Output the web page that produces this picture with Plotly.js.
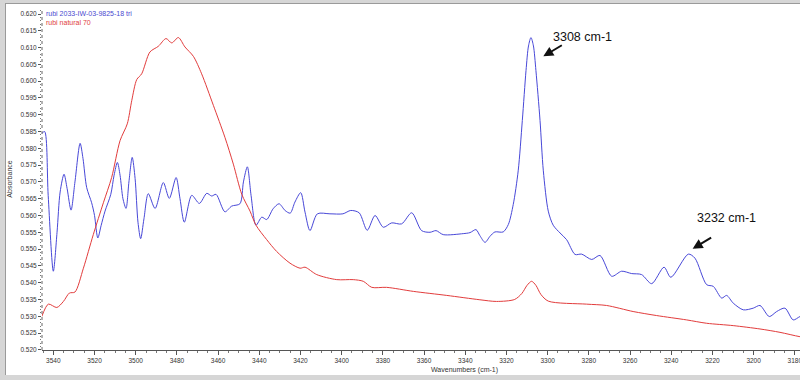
<!DOCTYPE html>
<html>
<head>
<meta charset="utf-8">
<script src="https://cdn.plot.ly/plotly-3.0.1.min.js"></script>
<style>
  html, body { margin: 0; padding: 0; background: #d6d6d6; width: 800px; height: 380px; overflow: hidden; position: relative; }
  #chart { position: absolute; left: 5px; top: 3px; width: 810px; height: 372px; background: #fff; box-shadow: inset 1px 1px 0 #9a9a9a; }
</style>
</head>
<body>
<div id="chart"></div>
<script>
// Wavenumbers (cm-1) and absorbance, series 1: rubi 2033-IW-03-9825-18 tri
const blueX = [3545.5, 3544.2, 3542.5, 3540.0, 3538.2, 3536.7, 3534.8, 3533.3, 3531.4, 3529.5, 3527.0, 3525.6, 3523.8, 3521.4, 3520.0, 3518.4, 3516.8, 3514.9, 3512.1, 3510.5, 3508.9, 3507.6, 3506.2, 3504.7, 3503.3, 3501.7, 3500.3, 3498.9, 3497.6, 3496.0, 3493.9, 3490.6, 3486.6, 3483.7, 3480.4, 3478.5, 3476.4, 3472.8, 3469.1, 3465.5, 3463.1, 3461.0, 3456.7, 3453.4, 3449.4, 3447.7, 3445.8, 3444.0, 3441.6, 3438.8, 3436.4, 3433.3, 3430.4, 3427.5, 3425.0, 3422.7, 3419.9, 3417.8, 3415.4, 3411.8, 3405.7, 3399.4, 3395.6, 3391.5, 3387.6, 3383.8, 3379.8, 3375.7, 3370.9, 3366.0, 3361.2, 3357.1, 3354.2, 3350.7, 3341.0, 3337.7, 3334.8, 3332.9, 3330.4, 3328.0, 3325.6, 3321.6, 3319.1, 3316.7, 3314.3, 3312.3, 3310.5, 3309.3, 3308.1, 3306.9, 3305.7, 3303.7, 3302.1, 3299.7, 3297.3, 3294.0, 3290.8, 3286.7, 3283.5, 3278.6, 3274.6, 3268.9, 3264.1, 3259.2, 3254.4, 3249.5, 3243.5, 3240.2, 3231.7, 3228.5, 3222.8, 3219.6, 3215.5, 3213.1, 3209.9, 3205.0, 3200.2, 3196.9, 3192.4, 3188.8, 3184.8, 3180.8, 3177.5, 3174.0, 3170.5];
const blueY = [0.5845, 0.5850, 0.5660, 0.5434, 0.5550, 0.5670, 0.5723, 0.5680, 0.5616, 0.5700, 0.5815, 0.5770, 0.5683, 0.5638, 0.5600, 0.5533, 0.5570, 0.5613, 0.5663, 0.5720, 0.5758, 0.5720, 0.5650, 0.5621, 0.5700, 0.5773, 0.5710, 0.5580, 0.5531, 0.5590, 0.5665, 0.5621, 0.5698, 0.5651, 0.5713, 0.5650, 0.5580, 0.5660, 0.5636, 0.5666, 0.5658, 0.5663, 0.5611, 0.5628, 0.5635, 0.5700, 0.5745, 0.5660, 0.5571, 0.5595, 0.5588, 0.5620, 0.5635, 0.5615, 0.5607, 0.5640, 0.5668, 0.5610, 0.5555, 0.5605, 0.5605, 0.5605, 0.5615, 0.5608, 0.5556, 0.5600, 0.5565, 0.5578, 0.5575, 0.5608, 0.5555, 0.5550, 0.5555, 0.5543, 0.5546, 0.5549, 0.5558, 0.5540, 0.5520, 0.5538, 0.5551, 0.5551, 0.5573, 0.5633, 0.5733, 0.5883, 0.6032, 0.6105, 0.6130, 0.6105, 0.6032, 0.5883, 0.5733, 0.5613, 0.5571, 0.5548, 0.5528, 0.5484, 0.5485, 0.5469, 0.5481, 0.5419, 0.5434, 0.5427, 0.5424, 0.5397, 0.5446, 0.5416, 0.5485, 0.5473, 0.5394, 0.5389, 0.5354, 0.5362, 0.5339, 0.5319, 0.5324, 0.5332, 0.5299, 0.5314, 0.5324, 0.5289, 0.5299, 0.5305, 0.5295];

// Series 2: rubi natural 70
const redX = [3545.6, 3542.4, 3538.3, 3535.1, 3532.2, 3529.5, 3525.4, 3520.6, 3515.7, 3511.7, 3507.6, 3504.1, 3501.9, 3499.5, 3497.1, 3493.1, 3489.0, 3485.3, 3482.5, 3479.3, 3476.1, 3472.0, 3468.0, 3462.3, 3456.7, 3452.6, 3448.5, 3444.5, 3441.6, 3436.4, 3431.6, 3425.1, 3420.2, 3417.8, 3412.1, 3402.4, 3394.4, 3389.5, 3385.4, 3378.2, 3365.2, 3349.0, 3332.9, 3324.8, 3316.0, 3312.5, 3310.0, 3307.8, 3305.7, 3303.3, 3299.7, 3281.1, 3271.4, 3258.5, 3247.1, 3232.5, 3222.8, 3209.9, 3196.9, 3187.2, 3177.5, 3170.5];
const redY = [0.5299, 0.5336, 0.5326, 0.5344, 0.5369, 0.5372, 0.5443, 0.5543, 0.5638, 0.5713, 0.5823, 0.5873, 0.5943, 0.6005, 0.6022, 0.6087, 0.6104, 0.6127, 0.6114, 0.6130, 0.6102, 0.6074, 0.6022, 0.5928, 0.5833, 0.5753, 0.5663, 0.5613, 0.5571, 0.5528, 0.5493, 0.5458, 0.5443, 0.5446, 0.5424, 0.5409, 0.5409, 0.5404, 0.5386, 0.5386, 0.5374, 0.5362, 0.5349, 0.5344, 0.5350, 0.5368, 0.5392, 0.5404, 0.5392, 0.5365, 0.5345, 0.5336, 0.5332, 0.5314, 0.5302, 0.5289, 0.5279, 0.5272, 0.5262, 0.5252, 0.5239, 0.5233];

const seriesNames = ["rubi 2033-IW-03-9825-18 tri", "rubi natural 70"];
const peakLabels = ["3308 cm-1", "3232 cm-1"];
const peakX = [3302.1, 3229.6];
const peakY = [0.6074, 0.5501];
const labelX = [3282.9, 3213.4];
const labelY = [0.6131, 0.5593];

const blueC = '#4848d8', redC = '#e23c3c';
const font = 'Arial, "Liberation Sans", sans-serif';

const traces = [
  {x: blueX, y: blueY, type: 'scatter', mode: 'lines', name: seriesNames[0],
   line: {color: blueC, width: 1, shape: 'spline', smoothing: 0.8}},
  {x: redX, y: redY, type: 'scatter', mode: 'lines', name: seriesNames[1],
   line: {color: redC, width: 1, shape: 'spline', smoothing: 0.8}}
];

const annotations = [
  {xref: 'paper', yref: 'paper', x: 0.003, y: 1.0, xanchor: 'left', yanchor: 'top', showarrow: false,
   text: seriesNames[0], font: {family: font, size: 7, color: '#4a4ad0'}},
  {xref: 'paper', yref: 'paper', x: 0.003, y: 0.974, xanchor: 'left', yanchor: 'top', showarrow: false,
   text: seriesNames[1], font: {family: font, size: 7, color: '#e04040'}},
  {xref: 'paper', yref: 'paper', x: 0.547, y: 0, yshift: -20, xanchor: 'center', yanchor: 'middle', showarrow: false,
   text: 'Wavenumbers (cm-1)', font: {family: font, size: 7, color: '#333'}}
];
for (let i = 0; i < peakLabels.length; i++) {
  annotations.push({x: labelX[i], y: labelY[i], xref: 'x', yref: 'y', showarrow: false,
    text: peakLabels[i], font: {family: font, size: 12.5, color: '#111'}});
  annotations.push({x: peakX[i], y: peakY[i], xref: 'x', yref: 'y', text: '', showarrow: true,
    ax: 20, ay: -12, arrowhead: 2, arrowsize: 1, arrowwidth: 2, arrowcolor: '#111'});
}

const layout = {
  width: 810, height: 372,
  margin: {l: 37, r: 0, t: 5, b: 25, pad: 0},
  paper_bgcolor: 'rgba(0,0,0,0)', plot_bgcolor: '#fff',
  showlegend: false,
  xaxis: {
    range: [3545.5, 3170.2], tick0: 3180, dtick: 20, ticks: 'outside', ticklen: 4, tickwidth: 1, tickcolor: '#555',
    minor: {dtick: 5, ticks: 'outside', ticklen: 2, tickcolor: '#777'},
    showline: true, linecolor: '#555', linewidth: 1, showgrid: false, zeroline: false,
    tickfont: {family: font, size: 6.5, color: '#333'}
  },
  yaxis: {
    range: [0.51994, 0.6218], tick0: 0.52, dtick: 0.005, tickformat: '.3f', ticks: 'outside', ticklen: 3, tickcolor: '#555',
    minor: {dtick: 0.001, ticks: 'outside', ticklen: 1, tickcolor: '#777'},
    showline: false, showgrid: false, zeroline: false,
    tickfont: {family: font, size: 6.5, color: '#333'},
    title: {text: 'Absorbance', font: {family: font, size: 7, color: '#333'}, standoff: 6}
  },
  shapes: [{type: 'line', xref: 'paper', yref: 'paper', x0: 0, x1: 0, y0: 0, y1: 1,
            line: {color: '#666', width: 1, dash: 'dot'}}],
  annotations: annotations
};

Plotly.newPlot('chart', traces, layout, {staticPlot: true, displayModeBar: false});
</script>
</body>
</html>
